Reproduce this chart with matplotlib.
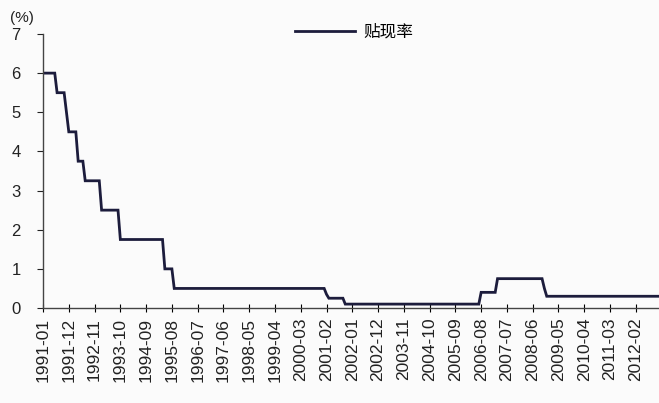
import numpy as np
import matplotlib
matplotlib.use("Agg")
import matplotlib.pyplot as plt
from matplotlib.lines import Line2D

plt.rcParams['font.family'] = ['Liberation Sans', 'Noto Sans CJK SC', 'DejaVu Sans']

# Monthly discount rate, Jan 1991 - Dec 2012, stored as (level, months held)
rate_levels = [6.0, 5.5, 5.0, 4.5, 3.75, 3.25, 2.5, 1.75, 1.0, 0.5,
               0.35, 0.25, 0.1, 0.4, 0.75, 0.5, 0.3]
months_held = [6, 4, 1, 4, 3, 7, 8, 19, 4, 65,
               1, 7, 58, 7, 20, 1, 49]
series_name = "贴现率"

tick_labels = ["1991-01", "1991-12", "1992-11", "1993-10", "1994-09", "1995-08",
               "1996-07", "1997-06", "1998-05", "1999-04", "2000-03", "2001-02",
               "2002-01", "2002-12", "2003-11", "2004-10", "2005-09", "2006-08",
               "2007-07", "2008-06", "2009-05", "2010-04", "2011-03", "2012-02"]
tick_step = 11  # months between labelled ticks

rates = np.repeat(rate_levels, months_held)
months = np.arange(len(rates))

fig = plt.figure(figsize=(6.59, 4.03), dpi=100)
fig.patch.set_facecolor('#fbfbfb')
ax = fig.add_axes([0.0653, 0.2357, 0.935, 0.680])
ax.set_facecolor('#fbfbfb')

line_color = '#1c1c3c'
ax.plot(months, rates, color=line_color, lw=2.0, solid_joinstyle='miter')

ax.set_xlim(0, len(rates) - 1)
ax.set_ylim(0, 7)
ax.set_yticks(range(0, 8))
ax.set_xticks(np.arange(len(tick_labels)) * tick_step)
ax.set_xticklabels(tick_labels, rotation=90, fontsize=12.5, color='#222222')
ax.tick_params(axis='y', labelsize=12, colors='#222222', direction='out',
               length=4, width=0.8, pad=12)
ax.tick_params(axis='x', direction='inout', length=6, width=0.8, pad=4)

for side in ('top', 'right'):
    ax.spines[side].set_visible(False)
for side in ('left', 'bottom'):
    ax.spines[side].set_color('#444444')
    ax.spines[side].set_linewidth(1.0)

fig.text(0.015, 0.955, "(%)", fontsize=11, color='#222222', ha='left', va='center')

handle = Line2D([], [], color=line_color, lw=2.0)
fig.legend([handle], [series_name], loc='center', bbox_to_anchor=(0.538, 0.921),
           frameon=False, handlelength=3.6, handletextpad=0.5,
           prop={'family': ['Noto Sans CJK SC'], 'size': 12})

fig.savefig("out.png", dpi=100, facecolor=fig.get_facecolor())
